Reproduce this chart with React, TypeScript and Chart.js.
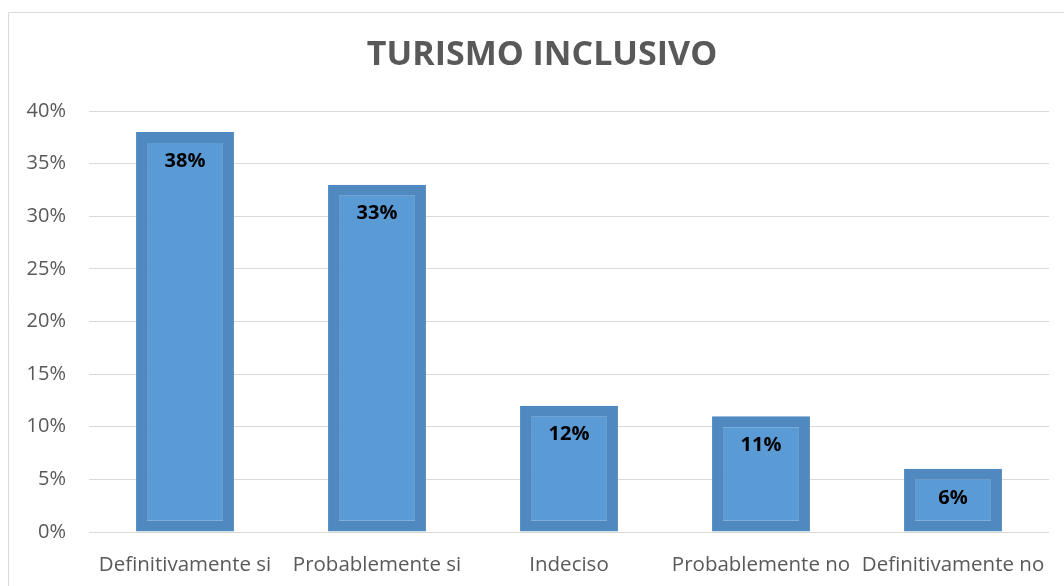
import React, { useEffect, useRef } from "react";
import { Chart, registerables } from "chart.js";

Chart.register(...registerables);

const categories = ["Definitivamente si", "Probablemente si", "Indeciso", "Probablemente no", "Definitivamente no"];
const values = [38, 33, 12, 11, 6];
const chartTitle = "TURISMO INCLUSIVO";
const FONT = "'Open Sans', sans-serif";

const framePlugin = {
  id: "frame",
  beforeDraw(chart: any) {
    const { ctx, width, height } = chart;
    ctx.save();
    ctx.fillStyle = "#ffffff";
    ctx.fillRect(0, 0, width, height);
    ctx.strokeStyle = "#d9d9d9";
    ctx.lineWidth = 1;
    ctx.beginPath();
    ctx.moveTo(8.5, height + 5);
    ctx.lineTo(8.5, 12.5);
    ctx.lineTo(width + 5, 12.5);
    ctx.stroke();
    ctx.fillStyle = "#595959";
    ctx.font = `bold 34px ${FONT}`;
    ctx.textAlign = "center";
    ctx.textBaseline = "middle";
    ctx.fillText(chartTitle, 542, 55);
    ctx.restore();
  },
};

const labelPlugin = {
  id: "barLabels",
  afterDatasetsDraw(chart: any) {
    const { ctx } = chart;
    const meta = chart.getDatasetMeta(0);
    ctx.save();
    ctx.fillStyle = "#000000";
    ctx.font = `bold 20px ${FONT}`;
    ctx.textAlign = "center";
    ctx.textBaseline = "middle";
    meta.data.forEach((bar: any, i: number) => {
      ctx.fillText(values[i] + "%", bar.x, bar.y + 29);
    });
    ctx.restore();
  },
};

export default function App() {
  const ref = useRef<HTMLCanvasElement | null>(null);
  useEffect(() => {
    if (!ref.current) return;
    const chart = new Chart(ref.current, {
      type: "bar",
      data: {
        labels: categories,
        datasets: [
          {
            data: values,
            backgroundColor: "rgb(91,155,213)",
            borderColor: "rgb(80,137,192)",
            borderWidth: 11,
            borderSkipped: false,
            categoryPercentage: 1,
            barPercentage: 0.51,
          },
        ],
      },
      options: {
        responsive: false,
        animation: false,
        layout: { padding: { top: 111, right: 15, left: 0, bottom: 0 } },
        plugins: { legend: { display: false }, tooltip: { enabled: false }, title: { display: false } },
        scales: {
          x: {
            grid: { display: false, drawTicks: false },
            border: { display: false },
            ticks: { color: "#595959", font: { family: FONT, size: 20.5 }, padding: 21, maxRotation: 0, autoSkip: false },
            afterFit(scale: any) {
              scale.height = 54;
              scale.paddingLeft = 0;
              scale.paddingRight = 0;
            },
          },
          y: {
            min: 0,
            max: 40,
            grid: { color: "#d9d9d9", lineWidth: 1, drawTicks: false },
            border: { display: false },
            ticks: {
              stepSize: 5,
              color: "#595959",
              font: { family: FONT, size: 20 },
              padding: 23,
              callback: (v: any) => v + "%",
            },
            afterFit(scale: any) {
              scale.width = 89;
              scale.paddingTop = 0;
              scale.paddingBottom = 0;
            },
          },
        },
      },
      plugins: [framePlugin, labelPlugin],
    });
    return () => chart.destroy();
  }, []);
  return (
    <div style={{ position: "absolute", left: 0, top: 0, width: 1064, height: 586 }}>
      <canvas ref={ref} width={1064} height={586} style={{ display: "block" }} />
    </div>
  );
}
